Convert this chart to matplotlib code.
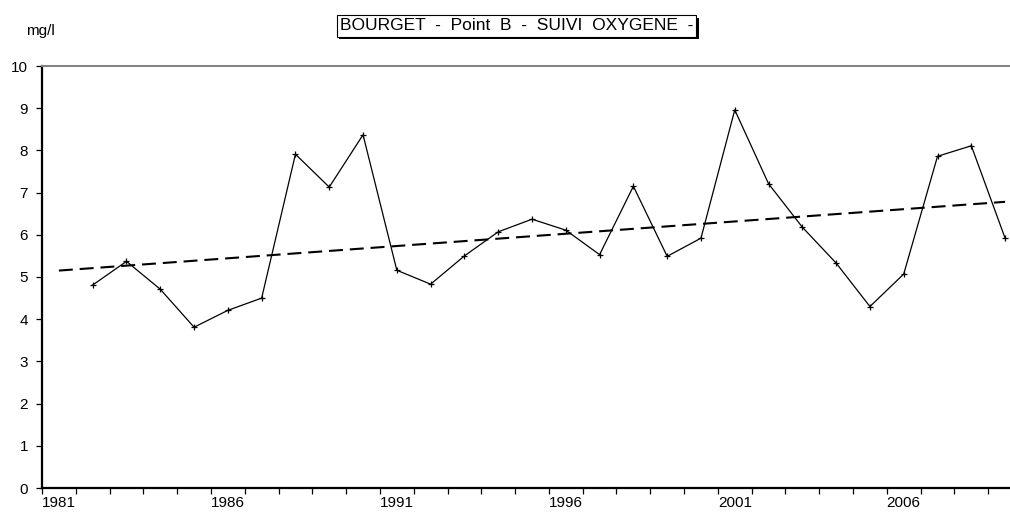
import numpy as np
import matplotlib
matplotlib.use("Agg")
import matplotlib.pyplot as plt
import matplotlib.patheffects as pe

plt.rcParams["font.family"] = ["Liberation Sans", "DejaVu Sans"]

# Annual dissolved oxygen, Lac du Bourget, point B (mg/l)
years = [1982, 1983, 1984, 1985, 1986, 1987, 1988, 1989, 1990, 1991,
         1992, 1993, 1994, 1995, 1996, 1997, 1998, 1999, 2000, 2001,
         2002, 2003, 2004, 2005, 2006, 2007, 2008, 2009]
oxygen = [4.81, 5.37, 4.71, 3.81, 4.21, 4.50, 7.91, 7.13, 8.37, 5.16,
          4.83, 5.50, 6.07, 6.37, 6.11, 5.53, 7.15, 5.49, 5.92, 8.96,
          7.21, 6.18, 5.33, 4.30, 5.07, 7.86, 8.11, 5.92]
first_year, last_year = 1981, 2009
label_years = [1981, 1986, 1991, 1996, 2001, 2006]
y_ticks = list(range(0, 11))

W, H = 1010, 512
fig = plt.figure(figsize=(W / 100, H / 100), dpi=100)
ax = fig.add_axes([42 / W, 24 / H, 980 / W, 422 / H])

ax.plot(years, oxygen, color="black", linewidth=0.9, marker="+",
        markersize=5, markeredgewidth=0.9, zorder=3)

# Linear trend over the whole category range
coef = np.polyfit(years, oxygen, 1)
trend_x = np.array([first_year, last_year])
ax.plot(trend_x, np.polyval(coef, trend_x), color="black", linewidth=1.5,
        dashes=(6.7, 3.3), zorder=2)

ax.set_xlim(first_year - 0.5, last_year + 0.5)
ax.set_ylim(0, 10)

ax.set_xticks(label_years)
ax.set_xticklabels([str(y) for y in label_years], fontsize=11)
ax.set_xticks(np.arange(first_year - 0.5, last_year + 1), minor=True)
ax.tick_params(axis="x", which="major", length=0, pad=6)
ax.tick_params(axis="x", which="minor", length=4, width=0.9, direction="out")

ax.set_yticks(y_ticks)
ax.set_yticklabels([str(v) for v in y_ticks], fontsize=11)
ax.tick_params(axis="y", length=4, width=0.9, direction="out", pad=6)

ax.spines["right"].set_visible(False)
ax.spines["left"].set_linewidth(1.6)
ax.spines["bottom"].set_linewidth(1.6)
ax.spines["top"].set_color("#808080")
ax.spines["top"].set_linewidth(1.4)

fig.text(26 / W, 1 - 31 / H, "mg/l", fontsize=11, ha="left", va="center")

title = fig.text(516.5 / W, 1 - 26 / H,
                 "BOURGET  -  Point  B  -  SUIVI  OXYGENE  -",
                 fontsize=12.5, ha="center", va="center",
                 bbox=dict(boxstyle="square,pad=0.18", facecolor="white",
                           edgecolor="black", linewidth=0.8))
title.get_bbox_patch().set_path_effects([
    pe.SimplePatchShadow(offset=(2, -2), shadow_rgbFace="black", alpha=1.0),
    pe.Normal(),
])

fig.savefig("out.png", dpi=100)
